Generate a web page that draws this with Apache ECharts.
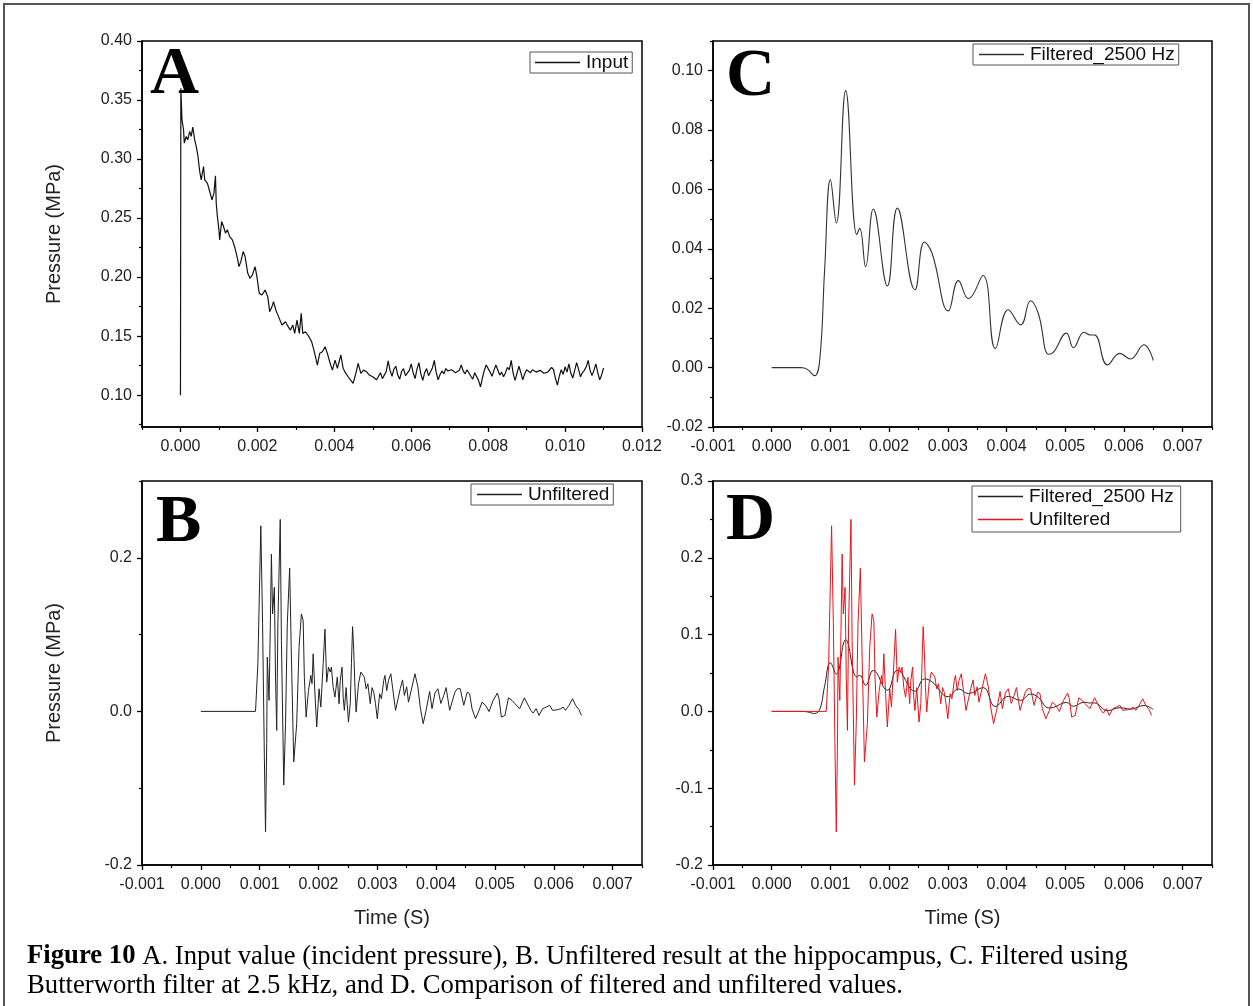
<!DOCTYPE html>
<html>
<head>
<meta charset="utf-8">
<script src="https://cdn.jsdelivr.net/npm/echarts@6/dist/echarts.min.js"></script>
<style>
html,body{margin:0;padding:0;background:#fff;}
#c{width:1253px;height:1006px;}
</style>
</head>
<body>
<div id="c"></div>
<script>
// ---------- DATA ----------
// Panel A: Input (incident pressure)
const inputT = [0,0.00001,0.00004,0.00008,0.0001,0.00015,0.00019,0.00024,0.00028,0.00032,0.00037,0.00041,0.00045,0.0005,0.00054,0.0006,0.00063,0.0007,0.00076,0.00082,0.00087,0.00091,0.00093,0.00096,0.001,0.00102,0.00107,0.00112,0.00117,0.00122,0.00128,0.00135,0.00142,0.00149,0.00152,0.00157,0.00163,0.00168,0.00175,0.00181,0.00187,0.00194,0.00198,0.00205,0.00212,0.0022,0.00227,0.00232,0.00238,0.00242,0.00248,0.00255,0.00264,0.00273,0.0028,0.00286,0.00292,0.00297,0.00303,0.00309,0.00314,0.00318,0.00325,0.00334,0.00341,0.00347,0.00356,0.00362,0.00369,0.00376,0.00382,0.00388,0.00395,0.00402,0.00408,0.00417,0.00423,0.0043,0.00439,0.00449,0.00456,0.00462,0.00469,0.00476,0.00484,0.00491,0.005,
0.00505,0.0051,0.00515,0.0052,0.00525,0.0053,0.00535,0.0054,0.00545,0.0055,0.00555,0.0056,0.00565,0.0057,0.00575,0.0058,0.00585,0.0059,0.00595,0.006,
0.00605,0.0061,0.00615,0.0062,0.00625,0.0063,0.00635,0.0064,0.00645,0.0065,0.00655,0.0066,0.00665,0.0067,0.00675,0.0068,0.00685,0.0069,0.00695,0.007,
0.00705,0.0071,0.00715,0.0072,0.00725,0.0073,0.00735,0.0074,0.00745,0.0075,0.00755,0.0076,0.00765,0.0077,0.00775,0.0078,0.00785,0.0079,0.00795,0.008,
0.00805,0.0081,0.00815,0.0082,0.00825,0.0083,0.00835,0.0084,0.00845,0.0085,0.00855,0.0086,0.00865,0.0087,0.00875,0.0088,0.00885,0.0089,0.00895,0.009,
0.00905,0.0091,0.00915,0.0092,0.00925,0.0093,0.00935,0.0094,0.00945,0.0095,0.00955,0.0096,0.00965,0.0097,0.00975,0.0098,0.00985,0.0099,0.00995,0.01,
0.01005,0.0101,0.01015,0.0102,0.01025,0.0103,0.01035,0.0104,0.01045,0.0105,0.01055,0.0106,0.01065,0.0107,0.01075,0.0108,0.01085,0.0109,0.01095,0.011];
const inputP = [0.10,0.36,0.3333,0.3248,0.3135,0.3192,0.3163,0.3234,0.3192,0.3271,0.3163,0.3107,0.3036,0.2895,0.2824,0.2937,0.2824,0.2796,0.2725,0.2654,0.2711,0.2858,0.2626,0.2513,0.24,0.2315,0.2471,0.2428,0.2372,0.24,0.2343,0.2315,0.2244,0.2145,0.2089,0.2131,0.2216,0.2174,0.2032,0.199,0.2018,0.2089,0.2018,0.1862,0.1848,0.1891,0.1834,0.1707,0.175,0.1792,0.1721,0.1665,0.1594,0.1622,0.158,0.1551,0.1594,0.1523,0.1636,0.1523,0.1693,0.1523,0.1537,0.1495,0.1453,0.1382,0.1255,0.1354,0.1368,0.141,0.1354,0.1283,0.1212,0.1297,0.1226,0.134,0.1226,0.1184,0.1141,0.1099,0.1184,0.1269,0.1184,0.1212,0.1198,0.117,0.1156,
0.117,0.113,0.116,0.119,0.114,0.1125,0.12,0.129,0.121,0.116,0.122,0.1245,0.117,0.1135,0.12,0.1225,0.1165,0.115,0.121,0.1265,
0.119,0.114,0.122,0.1275,0.118,0.1125,0.119,0.1225,0.1165,0.118,0.123,0.1295,0.119,0.113,0.1175,0.1205,0.118,0.1225,0.1205,0.119,
0.1215,0.122,0.119,0.1185,0.121,0.1255,0.1205,0.118,0.1215,0.121,0.116,0.1135,0.119,0.1175,0.1125,0.107,0.1145,0.121,0.1255,0.1265,
0.1195,0.116,0.121,0.1255,0.1215,0.117,0.1195,0.1155,0.119,0.1235,0.1215,0.1295,0.1185,0.1125,0.1185,0.1245,0.119,0.113,0.118,0.1215,
0.12,0.119,0.1215,0.1225,0.1195,0.1185,0.121,0.1205,0.1185,0.117,0.1195,0.1215,0.1235,0.1215,0.114,0.1085,0.116,0.1215,0.1175,0.124,
0.1195,0.1265,0.1185,0.1145,0.121,0.1275,0.122,0.1155,0.119,0.121,0.124,0.1295,0.121,0.1165,0.121,0.1265,0.119,0.113,0.117,0.123];

// Panel B / D (red): Unfiltered
const unfT = [0,0.00093,0.00097,0.00102,0.00105,0.00108,0.0011,0.00112,0.00113,0.00116,0.00118,0.0012,0.00122,0.00125,0.00127,0.00129,0.00131,0.00135,0.00137,0.00141,0.00144,0.00147,0.00151,0.00154,0.00158,0.00163,0.00167,0.00171,0.00174,0.00176,0.00179,0.00183,0.00187,0.00189,0.00191,0.00194,0.00197,0.00201,0.00204,0.00208,0.00211,0.00214,0.00217,0.0022,0.00222,0.00225,0.00228,0.00232,0.00235,0.00237,0.0024,0.00242,0.00244,0.00247,0.00251,0.00254,0.00256,0.00258,0.0026,0.00262,0.00264,0.00268,0.00272,0.00275,0.00278,0.00281,0.00284,0.00288,0.00291,0.00294,0.00297,0.003,0.00304,0.00307,0.00311,0.00313,0.00316,0.00319,0.00323,0.00331,0.00339,0.00343,0.00346,0.0035,0.00353,0.00359,0.00364,0.00369,0.00373,0.00378,0.00383,0.00389,0.00393,0.00398,0.00403,0.00408,0.00413,0.00417,0.00423,0.00427,0.00432,0.00436,0.00441,0.00447,0.00453,0.00457,0.00461,0.00467,0.00473,0.00478,0.00484,0.0049,0.00497,0.00504,0.00507,0.00511,0.00517,0.00523,0.00529,0.00534,0.00542,0.0055,0.00553,0.00561,0.00565,0.0057,0.00575,0.00581,0.00587,0.00593,0.00598,0.00606,0.00612,0.00616,0.0062,0.00623,0.00626,0.00632,0.00637,0.00643,0.00647];
const unfP = [0,0,0.062,0.2416,0.114,-0.059,-0.157,-0.042,0.0706,0.0143,0.105,0.2048,0.127,0.1615,0.0446,-0.0247,0.114,0.250,0.092,-0.096,-0.016,0.114,0.1866,0.0706,-0.0658,-0.016,0.0835,0.127,0.118,0.0446,-0.0074,0.027,0.0468,0.036,0.075,0.023,-0.0203,0.0294,0.0056,0.062,0.107,0.038,0.0576,0.0512,0.0576,0.031,0.0186,0.0446,0.01,0.0403,0.0576,0.0186,0.0013,0.031,-0.0139,0.01,0.062,0.1104,0.0792,0.031,-0.0009,0.036,0.0512,0.0533,0.0446,0.0294,0.036,0.01,0.031,0.0247,0.01,-0.0095,0.023,0.0165,0.0403,0.0468,0.027,0.0403,0.049,0.0013,0.0295,0.041,0.0208,0.032,0.012,0.032,0.049,0.032,0.0056,-0.016,0.0013,0.026,0.0035,0.024,0.0295,0.0104,0.0208,0.031,0.0013,0.012,0.0251,0.0295,0.0295,0.008,0.0251,0.023,0.0035,-0.0095,0.0013,0.012,0.008,-0.0002,0.0143,0.0238,0.0165,-0.0074,-0.0052,0.0177,0.0143,0.01,0.0035,0.0177,0.0186,0.0013,-0.0022,0.0035,-0.0052,0.0035,0.0056,0.008,0.0013,0.0022,0.0035,0.0056,0.0013,0.0048,0.008,0.0165,0.008,0.0022,-0.0052];

// Panel C / D (black): Filtered_2500 Hz
const filtT = [0,0.0005,0.0006,0.00073,0.00082,0.0009,0.001,0.0011,0.00126,0.00145,0.0015,0.0016,0.00173,0.00197,0.00214,0.00244,0.0026,0.00273,0.00301,0.00318,0.00335,0.0036,0.00381,0.00403,0.00424,0.00441,0.00454,0.00472,0.0048,0.00502,0.00514,0.00532,0.00543,0.0055,0.00572,0.00593,0.00611,0.00634,0.0065];
const filtP = [0,0,-0.0005,-0.0027,0.003,0.0324,0.0633,0.0487,0.0933,0.0448,0.0469,0.034,0.0534,0.0275,0.0537,0.0262,0.0423,0.0386,0.0191,0.0293,0.0232,0.031,0.0064,0.0195,0.0144,0.0225,0.0183,0.0045,0.0052,0.0116,0.0067,0.0119,0.011,0.011,0.0009,0.0048,0.0029,0.0077,0.0024];

// Tick values
const aXMajor = [0,0.002,0.004,0.006,0.008,0.010,0.012];
const aXMinor = [-0.001,0.001,0.003,0.005,0.007,0.009,0.011];
const aYMajor = [0.10,0.15,0.20,0.25,0.30,0.35,0.40];
const aYMinor = [0.075,0.125,0.175,0.225,0.275,0.325,0.375];
const tXMajor = [-0.001,0,0.001,0.002,0.003,0.004,0.005,0.006,0.007];
const tXMinor = [-0.0005,0.0005,0.0015,0.0025,0.0035,0.0045,0.0055,0.0065,0.0075];
const cYMajor = [-0.02,0,0.02,0.04,0.06,0.08,0.10];
const cYMinor = [-0.01,0.01,0.03,0.05,0.07,0.09,0.11];
const bYMajor = [-0.2,0,0.2];
const bYMinor = [-0.1,0.1,0.3];
const dYMajor = [-0.2,-0.1,0,0.1,0.2,0.3];
const dYMinor = [-0.15,-0.05,0.05,0.15,0.25];

// ---------- CHART ----------
const zip = (t, p) => t.map((v, i) => [v, p[i]]);
const SANS = 'Liberation Sans';
const SERIF = 'Liberation Serif';

function mainAxis(dim, gi, min, max, majors, digits, name, nameGap) {
  const ax = {
    type: 'value', gridIndex: gi, min: min, max: max,
    position: dim === 'x' ? 'bottom' : 'left',
    axisLine: {show: true, onZero: false, lineStyle: {color: '#000', width: 1.5}},
    axisTick: {show: true, customValues: majors, length: 5, inside: false, lineStyle: {color: '#000', width: 1.3}},
    axisLabel: {show: true, customValues: majors, formatter: v => Number(v).toFixed(digits),
      fontFamily: SANS, fontSize: 16, color: '#222', margin: dim === 'x' ? 12 : 10},
    splitLine: {show: false}
  };
  if (name) {
    ax.name = name;
    ax.nameLocation = 'middle';
    ax.nameGap = nameGap;
    ax.nameTextStyle = {fontFamily: SANS, fontSize: 20, color: '#222'};
  }
  return ax;
}
function minorAxis(dim, gi, min, max, minors) {
  return {
    type: 'value', gridIndex: gi, min: min, max: max,
    position: dim === 'x' ? 'bottom' : 'left',
    axisLine: {show: false, onZero: false},
    axisTick: {show: true, customValues: minors, length: 3, inside: false, lineStyle: {color: '#000', width: 1.2}},
    axisLabel: {show: false},
    splitLine: {show: false}
  };
}

const grids = [
  {left: 142, top: 41, width: 500, height: 386},
  {left: 142, top: 481, width: 500, height: 384},
  {left: 713, top: 41, width: 499, height: 386},
  {left: 713, top: 481, width: 499, height: 384}
].map(g => Object.assign(g, {show: true, borderColor: '#000', borderWidth: 1.5, backgroundColor: 'transparent', containLabel: false, outerBoundsMode: 'none'}));

const xAxes = [
  mainAxis('x', 0, -0.001, 0.012, aXMajor, 3), minorAxis('x', 0, -0.001, 0.012, aXMinor),
  mainAxis('x', 1, -0.001, 0.0075, tXMajor, 3, 'Time (S)', 43), minorAxis('x', 1, -0.001, 0.0075, tXMinor),
  mainAxis('x', 2, -0.001, 0.0075, tXMajor, 3), minorAxis('x', 2, -0.001, 0.0075, tXMinor),
  mainAxis('x', 3, -0.001, 0.0075, tXMajor, 3, 'Time (S)', 43), minorAxis('x', 3, -0.001, 0.0075, tXMinor)
];
const yAxes = [
  mainAxis('y', 0, 0.073, 0.40, aYMajor, 2, 'Pressure (MPa)', 78), minorAxis('y', 0, 0.073, 0.40, aYMinor),
  mainAxis('y', 1, -0.2, 0.3, bYMajor, 1, 'Pressure (MPa)', 78), minorAxis('y', 1, -0.2, 0.3, bYMinor),
  mainAxis('y', 2, -0.02, 0.11, cYMajor, 2), minorAxis('y', 2, -0.02, 0.11, cYMinor),
  mainAxis('y', 3, -0.2, 0.3, dYMajor, 1), minorAxis('y', 3, -0.2, 0.3, dYMinor)
];

function lineSeries(name, gi, data, color, width, smooth) {
  return {
    type: 'line', name: name, xAxisIndex: gi * 2, yAxisIndex: gi * 2,
    data: data, showSymbol: false, symbol: 'none', smooth: smooth || false,
    lineStyle: {color: color, width: width}, itemStyle: {color: color},
    animation: false, z: 3
  };
}

const series = [
  lineSeries('Input', 0, zip(inputT, inputP), '#111', 1.2),
  lineSeries('Unfiltered', 1, zip(unfT, unfP), '#222', 1),
  lineSeries('Filtered_2500 Hz', 2, zip(filtT, filtP), '#333', 1.1, 0.45),
  lineSeries('Filtered_2500 Hz', 3, zip(filtT, filtP), '#222', 1, 0.45),
  lineSeries('Unfiltered', 3, zip(unfT, unfP), '#e8141b', 1)
];
series[4].z = 4;

function legendBox(left, top, names, pad) {
  return {
    left: left, top: top, orient: 'vertical', data: names,
    icon: 'rect', itemWidth: 45, itemHeight: 1.3, itemGap: 4,
    padding: pad, borderColor: '#555', borderWidth: 1, backgroundColor: '#fff',
    textStyle: {fontFamily: SANS, fontSize: 19, color: '#111', padding: [0, 0, 0, 1]},
    selectedMode: false, inactiveColor: '#111'
  };
}

const legends = [
  legendBox(530, 52, ['Input'], [1, 4, 1, 5]),
  legendBox(973, 44, ['Filtered_2500 Hz'], [1, 4, 1, 6]),
  legendBox(471, 484, ['Unfiltered'], [1, 4, 1, 6]),
  legendBox(972, 486, [{name: 'Filtered_2500 Hz', itemStyle: {color: '#222'}}, {name: 'Unfiltered', itemStyle: {color: '#e8141b'}}], [1, 7, 3, 6])
];

function letter(ch, x, y) {
  return {type: 'text', left: x, top: y, z: 10,
    style: {text: ch, font: 'bold 68px "' + SERIF + '"', fill: '#000'}};
}

const graphic = [
  {type: 'rect', shape: {x: 4, y: 4, width: 1245, height: 1010}, style: {fill: 'none', stroke: '#555', lineWidth: 2}, z: 0, silent: true},
  letter('A', 150, 41),
  letter('B', 156, 489),
  letter('C', 726, 43),
  letter('D', 726, 487),
  {type: 'text', left: 27, top: 943, z: 10,
    style: {text: '{b|Figure 10} A. Input value (incident pressure), B. Unfiltered result at the hippocampus, C. Filtered using',
      font: '26.7px "' + SERIF + '"', fill: '#000',
      rich: {b: {fontFamily: SERIF, fontWeight: 'bold', fontSize: 26.7, fill: '#000'}}}},
  {type: 'text', left: 27, top: 972, z: 10,
    style: {text: 'Butterworth filter at 2.5 kHz, and D. Comparison of filtered and unfiltered values.',
      font: '26.7px "' + SERIF + '"', fill: '#000'}}
];

const chart = echarts.init(document.getElementById('c'), null, {renderer: 'canvas'});
chart.setOption({
  backgroundColor: '#fff',
  animation: false,
  grid: grids,
  xAxis: xAxes,
  yAxis: yAxes,
  legend: legends,
  series: series,
  graphic: graphic
});
</script>
</body>
</html>
